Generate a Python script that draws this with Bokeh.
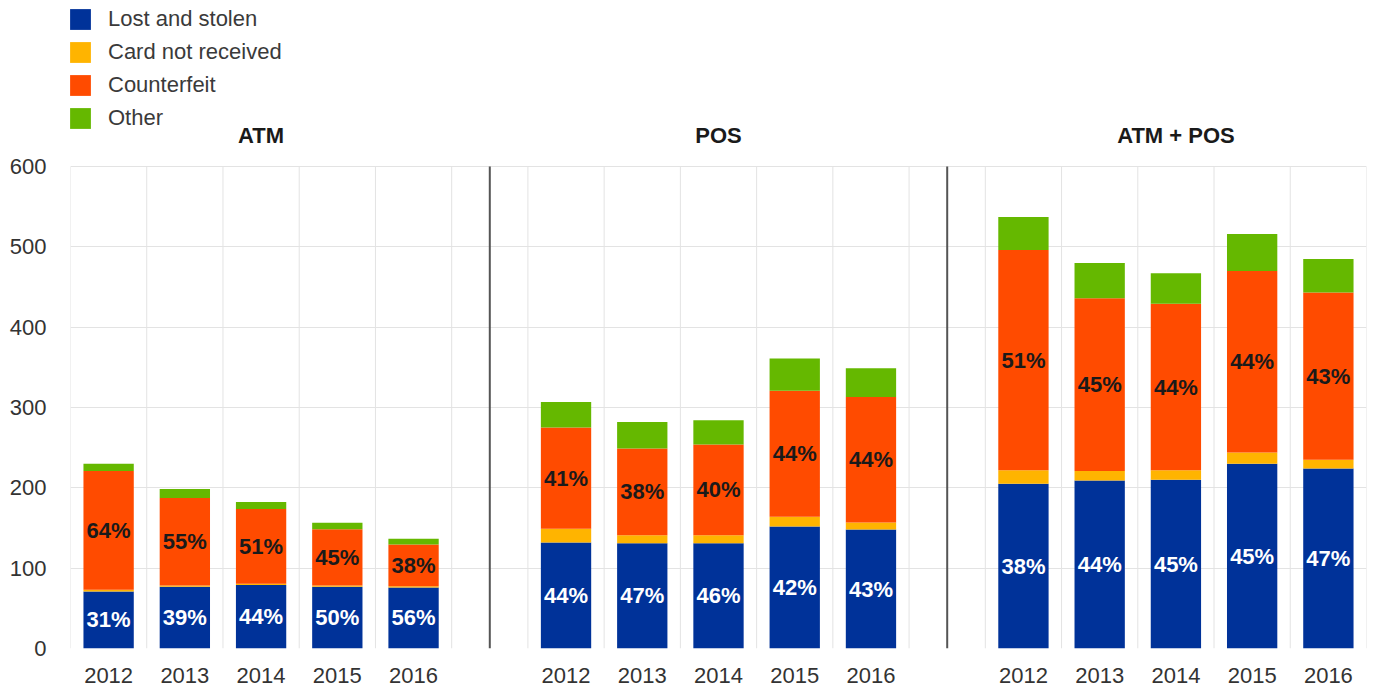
from bokeh.plotting import figure
from bokeh.models import (ColumnDataSource, Range1d, FixedTicker, Legend, LegendItem)
from bokeh.core.properties import value
from bokeh.embed import file_html
from bokeh.resources import INLINE

# ---------------- data ----------------
years = ["2012", "2013", "2014", "2015", "2016"]
panels = ["ATM", "POS", "ATM + POS"]
series = ["Lost and stolen", "Card not received", "Counterfeit", "Other"]

lost_atm = [71, 77, 79, 77, 76]
card_atm = [2, 1.5, 1.5, 1.5, 1.5]
counterfeit_atm = [148, 109, 93, 70, 52]
other_atm = [9, 11, 9, 8, 7]

lost_pos = [132, 131, 131, 152, 148]
card_pos = [17, 10, 10, 12, 9]
counterfeit_pos = [126, 108, 113, 157, 156]
other_pos = [32, 33, 30, 40, 36]

lost_all = [205, 209, 210, 230, 224]
card_all = [17, 12, 12, 14, 11]
counterfeit_all = [274, 215, 207, 226, 208]
other_all = [41, 44, 38, 46, 42]

lost_pct_atm = [31, 39, 44, 50, 56]
cf_pct_atm = [64, 55, 51, 45, 38]
lost_pct_pos = [44, 47, 46, 42, 43]
cf_pct_pos = [41, 38, 40, 44, 44]
lost_pct_all = [38, 44, 45, 45, 47]
cf_pct_all = [51, 45, 44, 44, 43]

y_ticks = [0, 100, 200, 300, 400, 500, 600]
y_max = 600

colors = ["#003299", "#FFB400", "#FF4B00", "#65B800"]
FONT = "Liberation Sans"
FS = "22px"

# ---------------- layout constants (pixels) ----------------
W, H = 1384, 692
LEFT, RIGHT, BOTTOM = 70, 18, 44
HEADER = 166            # pixels between the canvas top and the 600 line
PLOT_H = 482            # pixels from 0 to 600
TITLE_GAP = 31          # title centre above the 600 line
px = y_max / PLOT_H     # data units per pixel
y_top = y_max + HEADER * px

ROW_H, ROW_GAP = 26, 7
LEG_TOP = 6
leg_h = len(series) * ROW_H + (len(series) - 1) * ROW_GAP

# ---------------- build table ----------------
groups = [
    (lost_atm, card_atm, counterfeit_atm, other_atm, lost_pct_atm, cf_pct_atm),
    (lost_pos, card_pos, counterfeit_pos, other_pos, lost_pct_pos, cf_pct_pos),
    (lost_all, card_all, counterfeit_all, other_all, lost_pct_all, cf_pct_all),
]
slot = len(years) + 1
xs, l, c, cf, o, lp, cp, lpy, cpy = [], [], [], [], [], [], [], [], []
tick_pos, tick_lab = [], []
for g, (L, C, CF, O, LP, CP) in enumerate(groups):
    for i, yr in enumerate(years):
        x = g * slot + i
        xs.append(x)
        l.append(L[i]); c.append(C[i]); cf.append(CF[i]); o.append(O[i])
        lp.append(f"{LP[i]}%"); cp.append(f"{CP[i]}%")
        lpy.append(L[i] / 2)
        cpy.append(L[i] + C[i] + CF[i] / 2)
        tick_pos.append(x)
        tick_lab.append(yr)

src = ColumnDataSource(dict(x=xs, lost=l, card=c, cf=cf, other=o))
lab_src = ColumnDataSource(dict(x=xs, lp=lp, cp=cp, lpy=lpy, cpy=cpy))

n_slots = len(panels) * slot - 1

p = figure(width=W, height=H, output_backend="svg", toolbar_location=None,
           x_range=Range1d(-0.5, n_slots - 0.5), y_range=Range1d(0, y_top),
           min_border_left=LEFT, min_border_right=RIGHT, min_border_top=0,
           min_border_bottom=BOTTOM)
p.outline_line_color = None
p.background_fill_color = "white"
p.border_fill_color = "white"

# grid lines (vertical ones limited to the 0..600 band)
bounds = [k - 0.5 for k in range(n_slots + 1)]
p.segment(x0=bounds, x1=bounds, y0=[0] * len(bounds), y1=[y_max] * len(bounds),
          line_color="#e3e3e3", line_width=1)
p.xgrid.visible = False
p.ygrid.grid_line_color = "#e3e3e3"

# panel separators
seps = [g * slot - 1 for g in range(1, len(panels))]
p.segment(x0=seps, x1=seps, y0=[0] * len(seps), y1=[y_max] * len(seps),
          line_color="#555555", line_width=2)

rs = p.vbar_stack(["lost", "card", "cf", "other"], x="x", width=0.66,
                  color=colors, line_color=None, source=src)

p.text(x="x", y="lpy", text="lp", source=lab_src, text_align="center",
       text_baseline="middle", text_color="white", text_font=value(FONT),
       text_font_size=FS, text_font_style="bold")
p.text(x="x", y="cpy", text="cp", source=lab_src, text_align="center",
       text_baseline="middle", text_color="#1a1a1a", text_font=value(FONT),
       text_font_size=FS, text_font_style="bold")

# panel titles
title_x = [g * slot + (len(years) - 1) / 2 for g in range(len(panels))]
p.text(x=title_x, y=[y_max + TITLE_GAP * px] * len(panels), text=panels,
       text_align="center", text_baseline="middle", text_color="#1a1a1a",
       text_font=value(FONT), text_font_size=FS, text_font_style="bold")

# axes
p.xaxis.ticker = FixedTicker(ticks=tick_pos)
p.xaxis.major_label_overrides = {pos: lab for pos, lab in zip(tick_pos, tick_lab)}
p.yaxis.ticker = FixedTicker(ticks=y_ticks)
for ax in (p.xaxis, p.yaxis):
    ax.axis_line_color = None
    ax.major_tick_line_color = None
    ax.minor_tick_line_color = None
    ax.major_label_text_font = FONT
    ax.major_label_text_font_size = FS
    ax.major_label_text_color = "#333333"
p.xaxis.major_label_standoff = 13
p.yaxis.major_label_standoff = 18

legend = Legend(items=[LegendItem(label=s, renderers=[r]) for s, r in zip(series, rs)],
                location=(-3, HEADER + PLOT_H - LEG_TOP - leg_h),
                orientation="vertical",
                glyph_width=26, glyph_height=26, label_height=ROW_H,
                label_standoff=15, spacing=ROW_GAP, padding=0, margin=0,
                border_line_color=None, background_fill_alpha=0,
                label_text_font=FONT, label_text_font_size=FS,
                label_text_color="#3a3a3a")
p.add_layout(legend)

open("out.html", "w").write(file_html(p, INLINE))
